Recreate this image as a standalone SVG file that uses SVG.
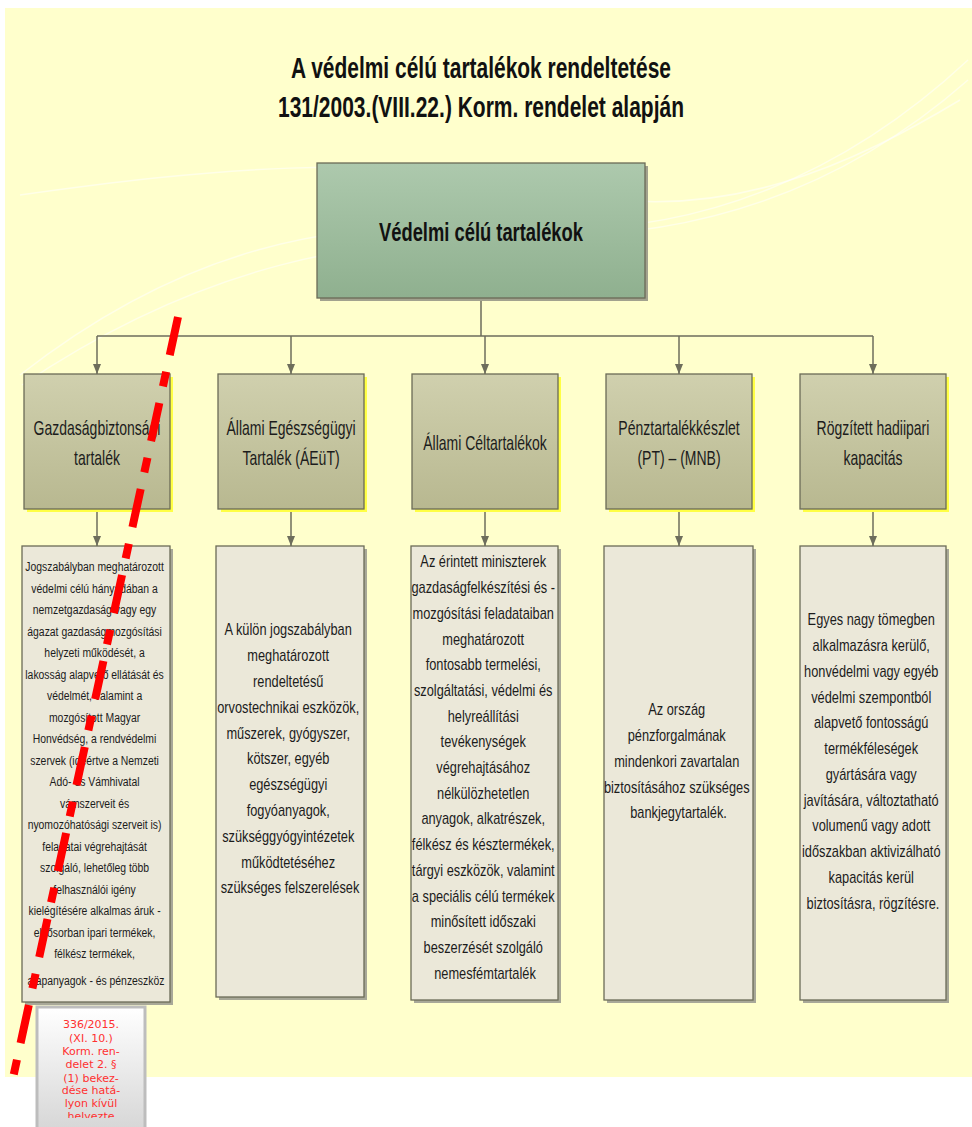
<svg xmlns="http://www.w3.org/2000/svg" width="972" height="1127" viewBox="0 0 972 1127">
<defs>
  <linearGradient id="gTop" x1="0" y1="0" x2="0" y2="1">
    <stop offset="0" stop-color="#adc9ad"/><stop offset="1" stop-color="#8fb08f"/>
  </linearGradient>
  <linearGradient id="gMid" x1="0" y1="0" x2="0" y2="1">
    <stop offset="0" stop-color="#d0d0ae"/><stop offset="1" stop-color="#b8b890"/>
  </linearGradient>
  <linearGradient id="gNote" x1="0" y1="0" x2="0" y2="1">
    <stop offset="0" stop-color="#ffffff"/><stop offset="1" stop-color="#d6d6d6"/>
  </linearGradient>
  <marker id="arr" markerUnits="userSpaceOnUse" markerWidth="10" markerHeight="8" refX="10" refY="4" orient="auto">
    <path d="M0,0 L10,4 L0,8 z" fill="#6e6e5c"/>
  </marker>
  <clipPath id="noteClip"><rect x="40" y="1010" width="102" height="108"/></clipPath>
</defs>
<style>
  .mid{fill:url(#gMid);stroke:#6b6b57;stroke-width:1.3}
  .midsh{fill:#ffff44}
  .box{fill:#ebe8d9;stroke:#6b6b57;stroke-width:1.3}
  .boxsh{fill:#a8a898}
  .conn{stroke:#6e6e5c;stroke-width:1.5;fill:none}
  .t{font-family:"Liberation Sans",Arial,sans-serif;fill:#1c1c1c;text-anchor:middle}
  .ml{font-size:20px}
  .bt{font-size:16px}
  .b1{font-size:13.5px}
  .ttl{font-family:"Liberation Sans",Arial,sans-serif;font-weight:bold;fill:#111;text-anchor:middle}
</style>

<!-- background -->
<rect x="5" y="8" width="967" height="1069" fill="#ffffcc"/>
<g fill="none" stroke="#ffffff" stroke-opacity="0.55" stroke-width="1.5">
  <path d="M20,375 C180,250 330,215 520,228 C700,240 850,170 968,60"/>
  <path d="M22,385 C200,265 360,235 540,236 C720,238 860,175 968,80"/>
  <path d="M20,195 C200,170 380,150 560,190 C720,230 860,160 960,100"/>
</g>

<!-- title -->
<g id="title">
  <text class="ttl" x="481" y="78" font-size="30" textLength="380" lengthAdjust="spacingAndGlyphs">A védelmi célú tartalékok rendeltetése</text>
  <text class="ttl" x="481" y="117" font-size="30" textLength="406" lengthAdjust="spacingAndGlyphs">131/2003.(VIII.22.) Korm. rendelet alapján</text>
</g>

<!-- connectors -->
<g id="connectors">
  <path class="conn" d="M481,298 V336 M97,336 H873"/>
  <line class="conn" x1="97" y1="336" x2="97" y2="374" marker-end="url(#arr)"/>
  <line class="conn" x1="291" y1="336" x2="291" y2="374" marker-end="url(#arr)"/>
  <line class="conn" x1="485" y1="336" x2="485" y2="374" marker-end="url(#arr)"/>
  <line class="conn" x1="679" y1="336" x2="679" y2="374" marker-end="url(#arr)"/>
  <line class="conn" x1="873" y1="336" x2="873" y2="374" marker-end="url(#arr)"/>
  <line class="conn" x1="97" y1="509" x2="97" y2="546" marker-end="url(#arr)"/>
  <line class="conn" x1="291" y1="509" x2="291" y2="546" marker-end="url(#arr)"/>
  <line class="conn" x1="485" y1="509" x2="485" y2="546" marker-end="url(#arr)"/>
  <line class="conn" x1="679" y1="509" x2="679" y2="546" marker-end="url(#arr)"/>
  <line class="conn" x1="873" y1="509" x2="873" y2="546" marker-end="url(#arr)"/>
</g>

<!-- top node -->
<g id="node-root">
  <rect x="320" y="166" width="328" height="135" fill="#a2a28e"/>
  <rect x="317" y="163" width="328" height="135" fill="url(#gTop)" stroke="#6b6b57" stroke-width="1.3"/>
  <text class="ttl" x="481" y="241" font-size="26" textLength="204" lengthAdjust="spacingAndGlyphs">Védelmi célú tartalékok</text>
</g>

<!-- mid nodes -->
<g id="node-gazd">
  <rect class="midsh" x="27" y="377" width="146" height="135"/>
  <rect class="mid" x="24" y="374" width="146" height="135"/>
  <g transform="translate(97 0) scale(0.7 1)"><text class="t ml"><tspan x="0" y="435">Gazdaságbiztonsági</tspan><tspan x="0" y="465">tartalék</tspan></text></g>
</g>
<g id="node-aeut">
  <rect class="midsh" x="221" y="377" width="146" height="135"/>
  <rect class="mid" x="218" y="374" width="146" height="135"/>
  <g transform="translate(291 0) scale(0.7 1)"><text class="t ml"><tspan x="0" y="435">Állami Egészségügyi</tspan><tspan x="0" y="465">Tartalék (ÁEüT)</tspan></text></g>
</g>
<g id="node-celt">
  <rect class="midsh" x="415" y="377" width="146" height="135"/>
  <rect class="mid" x="412" y="374" width="146" height="135"/>
  <g transform="translate(485 0) scale(0.7 1)"><text class="t ml" x="0" y="450">Állami Céltartalékok</text></g>
</g>
<g id="node-penz">
  <rect class="midsh" x="609" y="377" width="146" height="135"/>
  <rect class="mid" x="606" y="374" width="146" height="135"/>
  <g transform="translate(679 0) scale(0.7 1)"><text class="t ml"><tspan x="0" y="435">Pénztartalékkészlet</tspan><tspan x="0" y="465">(PT) – (MNB)</tspan></text></g>
</g>
<g id="node-hadi">
  <rect class="midsh" x="803" y="377" width="146" height="135"/>
  <rect class="mid" x="800" y="374" width="146" height="135"/>
  <g transform="translate(873 0) scale(0.7 1)"><text class="t ml"><tspan x="0" y="435">Rögzített hadiipari</tspan><tspan x="0" y="465">kapacitás</tspan></text></g>
</g>

<!-- detail boxes -->
<g id="box-gazd">
  <rect class="boxsh" x="25" y="549" width="148" height="456"/>
  <rect class="box" x="22" y="546" width="148" height="456"/>
  <g transform="translate(96 0) scale(0.77 1)"><text class="t b1">
    <tspan x="0" y="571.5">Jogszabályban meghatározott</tspan>
    <tspan x="0" y="593">védelmi célú hányadában a</tspan>
    <tspan x="0" y="614.5">nemzetgazdaság vagy egy</tspan>
    <tspan x="0" y="636">ágazat gazdaságmozgósítási</tspan>
    <tspan x="0" y="657.5">helyzeti működését, a</tspan>
    <tspan x="0" y="679">lakosság alapvető ellátását és</tspan>
    <tspan x="0" y="700.5">védelmét, valamint a</tspan>
    <tspan x="0" y="722">mozgósított Magyar</tspan>
    <tspan x="0" y="743.5">Honvédség, a rendvédelmi</tspan>
    <tspan x="0" y="765">szervek (ideértve a Nemzeti</tspan>
    <tspan x="0" y="786.5">Adó- és Vámhivatal</tspan>
    <tspan x="0" y="808">vámszerveit és</tspan>
    <tspan x="0" y="829.5">nyomozóhatósági szerveit is)</tspan>
    <tspan x="0" y="851">feladatai végrehajtását</tspan>
    <tspan x="0" y="872.5">szolgáló, lehetőleg több</tspan>
    <tspan x="0" y="894">felhasználói igény</tspan>
    <tspan x="0" y="915.5">kielégítésére alkalmas áruk -</tspan>
    <tspan x="0" y="937">elsősorban ipari termékek,</tspan>
    <tspan x="0" y="958.5">félkész termékek,</tspan>
    <tspan x="0" y="985">alapanyagok - és pénzeszköz</tspan>
  </text></g>
</g>
<g id="box-aeut">
  <rect class="boxsh" x="219" y="549" width="148" height="451"/>
  <rect class="box" x="216" y="546" width="148" height="451"/>
  <g transform="translate(290 0) scale(0.8 1)"><text class="t bt">
    <tspan x="0" y="635.5">A külön jogszabályban</tspan>
    <tspan x="0" y="661.3">meghatározott</tspan>
    <tspan x="0" y="687.1">rendeltetésű</tspan>
    <tspan x="0" y="712.9">orvostechnikai eszközök,</tspan>
    <tspan x="0" y="738.7">műszerek, gyógyszer,</tspan>
    <tspan x="0" y="764.5">kötszer, egyéb</tspan>
    <tspan x="0" y="790.3">egészségügyi</tspan>
    <tspan x="0" y="816.1">fogyóanyagok,</tspan>
    <tspan x="0" y="841.9">szükséggyógyintézetek</tspan>
    <tspan x="0" y="867.7">működtetéséhez</tspan>
    <tspan x="0" y="893.5">szükséges felszerelések</tspan>
  </text></g>
</g>
<g id="box-celt">
  <rect class="boxsh" x="414" y="549" width="147" height="454"/>
  <rect class="box" x="411" y="546" width="147" height="454"/>
  <g transform="translate(485 0) scale(0.8 1)"><text class="t bt">
    <tspan x="0" y="567.5">Az érintett miniszterek</tspan>
    <tspan x="0" y="593.2">gazdaságfelkészítési és -</tspan>
    <tspan x="0" y="618.9">mozgósítási feladataiban</tspan>
    <tspan x="0" y="644.6">meghatározott</tspan>
    <tspan x="0" y="670.3">fontosabb termelési,</tspan>
    <tspan x="0" y="696">szolgáltatási, védelmi és</tspan>
    <tspan x="0" y="721.7">helyreállítási</tspan>
    <tspan x="0" y="747.4">tevékenységek</tspan>
    <tspan x="0" y="773.1">végrehajtásához</tspan>
    <tspan x="0" y="798.8">nélkülözhetetlen</tspan>
    <tspan x="0" y="824.5">anyagok, alkatrészek,</tspan>
    <tspan x="0" y="850.2">félkész és késztermékek,</tspan>
    <tspan x="0" y="875.9">tárgyi eszközök, valamint</tspan>
    <tspan x="0" y="901.6">a speciális célú termékek</tspan>
    <tspan x="0" y="927.3">minősített időszaki</tspan>
    <tspan x="0" y="953">beszerzését szolgáló</tspan>
    <tspan x="0" y="978.7">nemesfémtartalék</tspan>
  </text></g>
</g>
<g id="box-penz">
  <rect class="boxsh" x="607" y="549" width="149" height="454"/>
  <rect class="box" x="604" y="546" width="149" height="454"/>
  <g transform="translate(678.5 0) scale(0.8 1)"><text class="t bt">
    <tspan x="0" y="715.5">Az ország</tspan>
    <tspan x="0" y="741.2">pénzforgalmának</tspan>
    <tspan x="0" y="766.9">mindenkori zavartalan</tspan>
    <tspan x="0" y="792.6">biztosításához szükséges</tspan>
    <tspan x="0" y="818.3">bankjegytartalék.</tspan>
  </text></g>
</g>
<g id="box-hadi">
  <rect class="boxsh" x="803" y="549" width="146" height="454"/>
  <rect class="box" x="800" y="546" width="146" height="454"/>
  <g transform="translate(873 0) scale(0.8 1)"><text class="t bt">
    <tspan x="0" y="625.5">Egyes nagy tömegben</tspan>
    <tspan x="0" y="651.25">alkalmazásra kerülő,</tspan>
    <tspan x="0" y="677">honvédelmi vagy egyéb</tspan>
    <tspan x="0" y="702.75">védelmi szempontból</tspan>
    <tspan x="0" y="728.5">alapvető fontosságú</tspan>
    <tspan x="0" y="754.25">termékféleségek</tspan>
    <tspan x="0" y="780">gyártására vagy</tspan>
    <tspan x="0" y="805.75">javítására, változtatható</tspan>
    <tspan x="0" y="831.5">volumenű vagy adott</tspan>
    <tspan x="0" y="857.25">időszakban aktivizálható</tspan>
    <tspan x="0" y="883">kapacitás kerül</tspan>
    <tspan x="0" y="908.75">biztosításra, rögzítésre.</tspan>
  </text></g>
</g>

<!-- note -->
<g id="note">
  <rect x="37" y="1007" width="108" height="124" fill="url(#gNote)" stroke="#bdbdbd" stroke-width="3"/>
  <g clip-path="url(#noteClip)" font-family="'DejaVu Sans',Verdana,sans-serif" font-size="11" fill="#ff3030" text-anchor="middle">
    <text x="91" y="1028">336/2015.</text>
    <text x="91" y="1042">(XI. 10.)</text>
    <text x="91" y="1055">Korm. ren-</text>
    <text x="91" y="1068">delet 2. §</text>
    <text x="91" y="1082">(1) bekez-</text>
    <text x="91" y="1094">dése hatá-</text>
    <text x="91" y="1107">lyon kívül</text>
    <text x="91" y="1120">helyezte</text>
  </g>
</g>

<!-- red strike line -->
<path d="M178,317 L13,1078" stroke="#ff0000" stroke-width="8" fill="none" stroke-dasharray="39 17 15 17"/>
</svg>
